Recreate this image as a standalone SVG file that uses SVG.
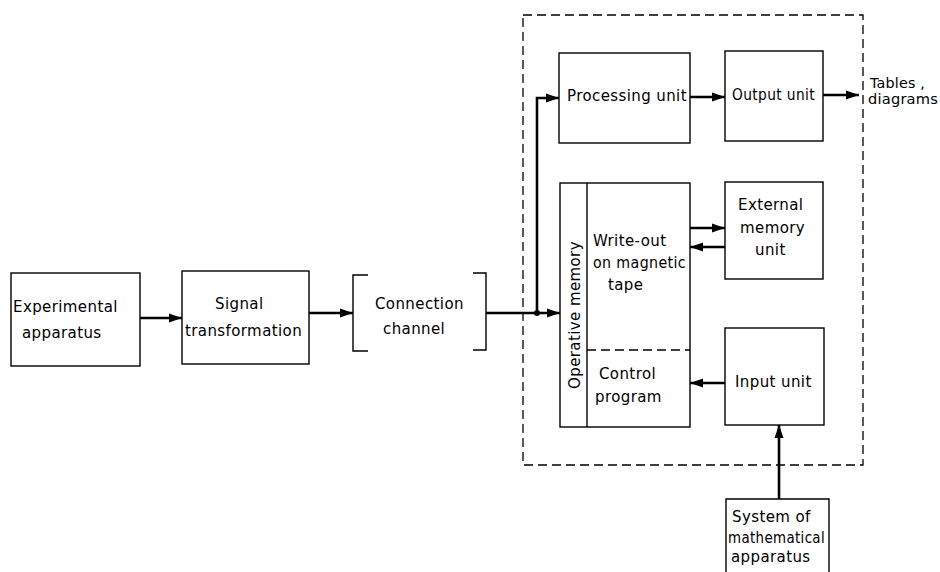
<svg xmlns="http://www.w3.org/2000/svg" width="940" height="572" viewBox="0 0 940 572">
<defs>
<marker id="ah" markerUnits="userSpaceOnUse" markerWidth="14" markerHeight="10" refX="13" refY="5" orient="auto">
<path d="M0,0.5 L13,5 L0,9.5 Z" fill="#000"/>
</marker>
</defs>
<style>
.box{fill:none;stroke:#000;stroke-width:1.4}
.dash{fill:none;stroke:#000;stroke-width:1.3;stroke-dasharray:9 5}
.con{fill:none;stroke:#000;stroke-width:2.6}
.arr{fill:none;stroke:#000;stroke-width:2.6;marker-end:url(#ah)}
text{font-family:"DejaVu Sans","Liberation Sans",sans-serif;font-size:15px;letter-spacing:0.4px;fill:#000}
.sm{font-size:14px;letter-spacing:0.2px}
</style>
<rect width="940" height="572" fill="#fff"/>
<g id="computer-boundary"><rect class="dash" x="523" y="15" width="340" height="450"/></g>
<g id="experimental-apparatus">
<rect class="box" x="11" y="273" width="129" height="93"/>
<text x="13" y="312">Experimental</text>
<text x="22" y="338">apparatus</text>
</g>
<g id="signal-transformation">
<rect class="box" x="182" y="271" width="127" height="93"/>
<text x="215" y="309">Signal</text>
<text x="185" y="336">transformation</text>
</g>
<g id="connection-channel">
<path class="box" d="M368,275 H353 V351 H368 M473,273 H486 V350 H473"/>
<text x="375" y="309">Connection</text>
<text x="383" y="334">channel</text>
</g>
<g id="processing-unit">
<rect class="box" x="559" y="53" width="131" height="90"/>
<text x="567" y="101">Processing unit</text>
</g>
<g id="output-unit">
<rect class="box" x="725" y="51" width="98" height="90"/>
<text x="732" y="100" textLength="83" lengthAdjust="spacingAndGlyphs">Output unit</text>
</g>
<g id="tables-diagrams">
<text class="sm" x="870" y="88" textLength="55" lengthAdjust="spacingAndGlyphs">Tables ,</text>
<text class="sm" x="868" y="104" textLength="70" lengthAdjust="spacingAndGlyphs">diagrams</text>
</g>
<g id="operative-memory">
<rect class="box" x="560" y="183" width="130" height="244"/>
<line class="box" x1="587" y1="183" x2="587" y2="427"/>
<line class="dash" x1="587" y1="350" x2="690" y2="350"/>
<text transform="translate(580,315) rotate(-90)" text-anchor="middle">Operative memory</text>
<text x="593" y="246">Write-out</text>
<text x="593" y="268" textLength="93" lengthAdjust="spacingAndGlyphs">on magnetic</text>
<text x="608" y="290">tape</text>
<text x="599" y="379">Control</text>
<text x="595" y="402">program</text>
</g>
<g id="external-memory-unit">
<rect class="box" x="725" y="182" width="98" height="97"/>
<text x="738" y="210">External</text>
<text x="740" y="233">memory</text>
<text x="755" y="255">unit</text>
</g>
<g id="input-unit">
<rect class="box" x="725" y="328" width="99" height="97"/>
<text x="735" y="387">Input unit</text>
</g>
<g id="system-of-mathematical-apparatus">
<path class="box" d="M726,580 V499 H829 V580"/>
<text x="732" y="522">System of</text>
<text x="728" y="543" textLength="97" lengthAdjust="spacingAndGlyphs">mathematical</text>
<text x="731" y="562">apparatus</text>
</g>
<g id="connectors">
<line class="arr" x1="140" y1="318" x2="182" y2="318"/>
<line class="arr" x1="309" y1="313" x2="353" y2="313"/>
<line class="arr" x1="486" y1="313" x2="560" y2="313"/>
<path class="arr" d="M537,313 V98 H559"/>
<circle cx="537" cy="313" r="3" fill="#000"/>
<line class="arr" x1="690" y1="97" x2="725" y2="97"/>
<line class="arr" x1="823" y1="95" x2="859" y2="95"/>
<line class="arr" x1="690" y1="228" x2="725" y2="228"/>
<line class="arr" x1="725" y1="247" x2="690" y2="247"/>
<line class="arr" x1="725" y1="383" x2="690" y2="383"/>
<line class="arr" x1="779" y1="499" x2="779" y2="425"/>
</g>
</svg>
